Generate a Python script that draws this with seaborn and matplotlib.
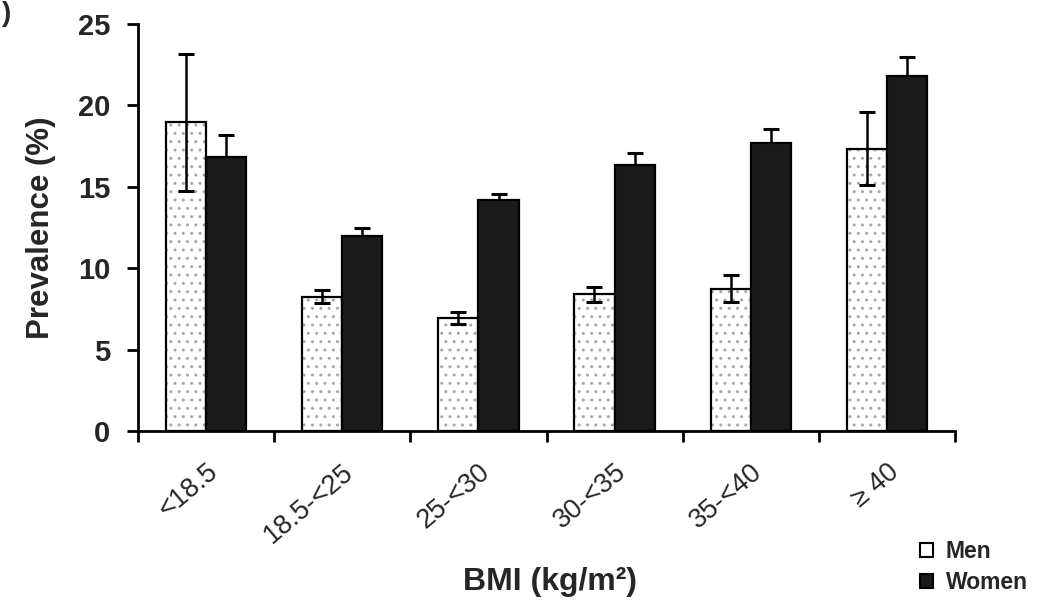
import pandas as pd
import matplotlib
matplotlib.use("Agg")
import matplotlib.pyplot as plt
import matplotlib.transforms as mtransforms
import seaborn as sns
from matplotlib.patches import Patch

# values
bmi_groups = ["<18.5", "18.5-<25", "25-<30", "30-<35", "35-<40", "\u2265 40"]
men_prev = [18.95, 8.25, 6.95, 8.4, 8.75, 17.35]
men_err = [4.2, 0.4, 0.35, 0.45, 0.85, 2.25]
women_prev = [16.8, 12.0, 14.2, 16.35, 17.7, 21.8]
women_err = [1.4, 0.45, 0.35, 0.75, 0.85, 1.2]
sexes = ["Men", "Women"]

df = pd.DataFrame({
    "bmi": bmi_groups * 2,
    "sex": ["Men"] * len(bmi_groups) + ["Women"] * len(bmi_groups),
    "prev": men_prev + women_prev,
})

sns.set_style("white")
plt.rcParams["font.family"] = ["Liberation Sans", "DejaVu Sans"]
plt.rcParams["hatch.linewidth"] = 1.0

fig = plt.figure(figsize=(10.58, 6.09), dpi=100)
ax = fig.add_axes([138 / 1058, 1 - 431 / 609, (955 - 138) / 1058, (431 - 24) / 609])

sns.barplot(data=df, x="bmi", y="prev", hue="sex", order=bmi_groups,
            hue_order=sexes, palette={"Men": "white", "Women": "#1a1a1a"},
            width=0.59, gap=0, errorbar=None, legend=False, ax=ax,
            edgecolor="black", linewidth=1.6, zorder=2)

# men: whole bar visible through the white bar; women: lower half hidden by bar
errs = [men_err, women_err]
err_z = [3, 1.5]
for cont, err, z in zip(ax.containers, errs, err_z):
    xs = [p.get_x() + p.get_width() / 2 for p in cont.patches]
    ys = [p.get_height() for p in cont.patches]
    ax.errorbar(xs, ys, yerr=err, fmt="none", ecolor="black",
                elinewidth=1.8, capsize=6, capthick=2.2, zorder=z)

for p in ax.containers[0].patches:
    p.set_hatch("..")
    if hasattr(p, "set_hatchcolor"):
        p.set_hatchcolor("#a8a8a8")
    else:
        p._hatch_color = (0.66, 0.66, 0.66, 1.0)

ax.set_ylim(0, 25)
ax.set_xlim(-0.5, 5.5)
ax.set_yticks([0, 5, 10, 15, 20, 25])
ax.set_yticklabels(["0", "5", "10", "15", "20", "25"], fontsize=21, fontweight="bold")

ax.set_xticks([i - 0.5 for i in range(len(bmi_groups) + 1)])
ax.set_xticklabels([])
ax.set_xticks(range(len(bmi_groups)), minor=True)
ax.set_xticklabels(bmi_groups, minor=True, rotation=40, ha="right", va="top",
                   rotation_mode="anchor", fontsize=19.5)
shift = mtransforms.ScaledTranslation(-2 / 100, 0, fig.dpi_scale_trans)
for lab in ax.get_xticklabels(minor=True):
    lab.set_transform(lab.get_transform() + shift)
ax.tick_params(axis="x", which="minor", length=0, pad=20)
ax.tick_params(axis="both", which="major", length=8, width=2,
               direction="out", color="black", bottom=True, left=True)
ax.tick_params(axis="y", pad=12)

for side in ["top", "right"]:
    ax.spines[side].set_visible(False)
for side in ["left", "bottom"]:
    ax.spines[side].set_color("black")
    ax.spines[side].set_linewidth(2)

ax.set_ylabel("Prevalence (%)", fontsize=22.5, fontweight="bold", labelpad=16)
ax.set_xlabel("")
fig.text(550 / 1058, 1 - 582 / 609, "BMI (kg/m\u00b2)", ha="center",
         va="center", fontsize=23, fontweight="bold")

handles = [Patch(facecolor="white", edgecolor="black", linewidth=1.5),
           Patch(facecolor="#1a1a1a", edgecolor="black", linewidth=1.5)]
fig.legend(handles, sexes, loc="center left",
           bbox_to_anchor=(899 / 1058, 1 - 567 / 609), frameon=False,
           prop={"weight": "bold", "size": 16.5}, handlelength=0.6,
           handleheight=0.6, handletextpad=0.55, labelspacing=0.35)

fig.text(0.002, 0.998, ")", ha="left", va="top", fontsize=20, fontweight="bold")

fig.savefig("out.png", dpi=100)
